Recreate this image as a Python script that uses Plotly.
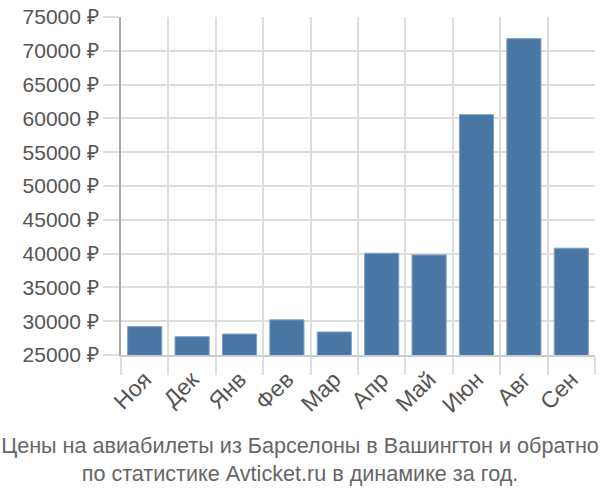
import plotly.graph_objects as go

months = ["Ноя", "Дек", "Янв", "Фев", "Мар", "Апр", "Май", "Июн", "Авг", "Сен"]
prices = [29200, 27700, 28100, 30200, 28400, 40050, 39800, 60550, 71800, 40800]
y_ticks = list(range(25000, 75001, 5000))
y_labels = [f"{v} ₽" for v in y_ticks]

fig = go.Figure(go.Bar(
    x=months, y=prices,
    marker=dict(color="#4a76a6", line=dict(color="#7d9fc4", width=1)),
    width=0.72,
))

fig.update_layout(
    width=600, height=500,
    margin=dict(l=121, r=5, t=15, b=145),
    plot_bgcolor="white", paper_bgcolor="white",
    font=dict(family="Liberation Sans, Arial, sans-serif", size=22, color="#555555"),
    showlegend=False,
    title=dict(
        text="Цены на авиабилеты из Барселоны в Вашингтон и обратно<br>по статистике Avticket.ru в динамике за год.",
        x=0.5, xref="container", xanchor="center",
        y=0.095, yref="container", yanchor="bottom",
        font=dict(size=21.6, color="#666666"),
    ),
    xaxis=dict(
        type="category", tickson="boundaries", tickangle=-45,
        showgrid=True, gridcolor="#dddddd", gridwidth=2,
        ticks="outside", ticklen=18, tickcolor="#dddddd", tickwidth=2,
        showline=True, linecolor="#cccccc", linewidth=2,
        tickfont=dict(size=23, color="#555555"),
    ),
    yaxis=dict(
        range=[25000, 75000], tickvals=y_ticks, ticktext=y_labels,
        showgrid=True, gridcolor="#dddddd", gridwidth=2,
        ticks="outside", ticklen=16, tickcolor="#dddddd", tickwidth=2,
        showline=True, linecolor="#aaaaaa", linewidth=2,
        zeroline=False,
        tickfont=dict(size=21, color="#555555"),
    ),
)

fig.write_html("out.html", config={"displayModeBar": False},
               post_script="document.body.style.margin='0';")
